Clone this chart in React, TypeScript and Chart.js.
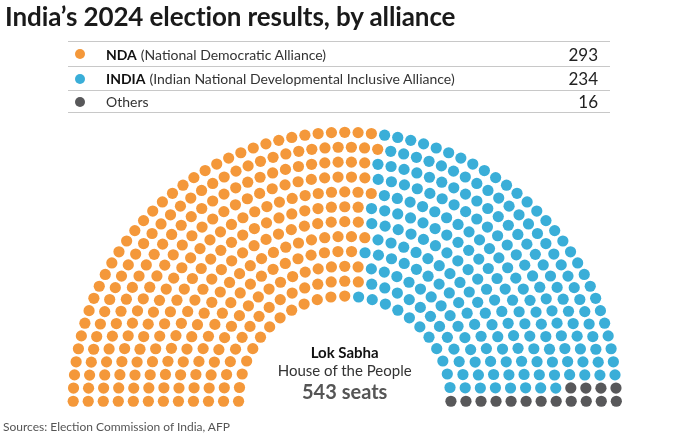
import React, { useEffect, useRef } from "react";
import { Chart, registerables } from "chart.js";
Chart.register(...registerables);

// ---- data ----
const parties = ["NDA", "INDIA", "Others"];
const partyNames = [
  "(National Democratic Alliance)",
  "(Indian National Developmental Inclusive Alliance)",
  "",
];
const seats = [293, 234, 16];
const colors = ["#F4983A", "#3AAED8", "#58585A"];
const titleText = "India\u2019s 2024 election results, by alliance";
const chamber = "Lok Sabha";
const chamberSub = "House of the People";
const totalLabel = "543 seats";
const sourceText = "Sources: Election Commission of India, AFP";

// hemicycle layout parameters
const ROWS = 12;
const INNER = 0.391; // inner ring radius relative to outer ring

type Seat = { a: number; r: number; x: number; y: number };

function layoutSeats(total: number): Seat[] {
  const radii = Array.from({ length: ROWS }, (_, i) => INNER + (i * (1 - INNER)) / (ROWS - 1));
  const sumR = radii.reduce((s, v) => s + v, 0);
  const raw = radii.map((r) => (total * r) / sumR);
  const counts = raw.map((v) => Math.floor(v));
  const rem = total - counts.reduce((s, v) => s + v, 0);
  const order = raw
    .map((v, i) => [v - Math.floor(v), i] as [number, number])
    .sort((p, q) => q[0] - p[0]);
  for (let k = 0; k < rem; k++) counts[order[k][1]]++;
  const pts: Seat[] = [];
  radii.forEach((r, i) => {
    const n = counts[i];
    for (let j = 0; j < n; j++) {
      const a = (Math.PI * (n - 1 - j)) / (n - 1);
      pts.push({ a, r, x: r * Math.cos(a), y: r * Math.sin(a) });
    }
  });
  pts.sort((p, q) => q.a - p.a || p.r - q.r);
  return pts;
}

const W = 696;
const H = 439;
const CX = 344.7;
const CY = 406;
const UNIT = 276;

export default function App() {
  const ref = useRef<HTMLCanvasElement | null>(null);

  useEffect(() => {
    if (!ref.current) return;
    const total = seats.reduce((s, v) => s + v, 0);
    const pts = layoutSeats(total);
    let start = 0;
    const datasets = parties.map((p, i) => {
      const slice = pts.slice(start, start + seats[i]);
      start += seats[i];
      return {
        label: p,
        data: slice.map((s) => ({ x: s.x, y: s.y })),
        backgroundColor: colors[i],
        borderWidth: 0,
        pointRadius: 5.6,
        pointHoverRadius: 5.6,
      };
    });
    const chart = new Chart(ref.current, {
      type: "scatter",
      data: { datasets },
      options: {
        animation: false,
        responsive: false,
        devicePixelRatio: 1,
        layout: { padding: 0 },
        plugins: { legend: { display: false }, tooltip: { enabled: false } },
        scales: {
          x: { type: "linear", display: false, min: -CX / UNIT, max: (W - CX) / UNIT },
          y: { type: "linear", display: false, min: -(H - CY) / UNIT, max: CY / UNIT },
        },
      },
    });
    return () => chart.destroy();
  }, []);

  const rowTops = [41, 66, 90];
  const rowH = [25, 24, 23];

  return (
    <div
      style={{
        position: "fixed",
        left: 0,
        top: 0,
        width: W,
        height: H,
        background: "#fff",
        fontFamily: "Lato, 'Open Sans', sans-serif",
        color: "#222",
        overflow: "hidden",
      }}
    >
      <canvas ref={ref} width={W} height={H} style={{ position: "absolute", left: 0, top: 0, width: W, height: H }} />
      <div
        style={{
          position: "absolute",
          left: 5,
          top: 0,
          fontSize: 26,
          fontWeight: 700,
          color: "#1a1a1a",
          whiteSpace: "nowrap",
          letterSpacing: -0.1,
        }}
      >
        {titleText}
      </div>
      {parties.map((p, i) => (
        <div
          key={p}
          style={{
            position: "absolute",
            left: 68,
            top: rowTops[i],
            width: 542,
            height: rowH[i],
            borderTop: "1px solid #c8c8c8",
            borderBottom: i === parties.length - 1 ? "1px solid #c8c8c8" : "none",
            boxSizing: "border-box",
          }}
        >
          <div
            style={{
              position: "absolute",
              left: 7,
              top: "50%",
              width: 10,
              height: 10,
              marginTop: -5,
              borderRadius: 5,
              background: colors[i],
            }}
          />
          <div
            style={{
              position: "absolute",
              left: 38,
              top: 0,
              bottom: 0,
              display: "flex",
              alignItems: "center",
              fontSize: 14,
              whiteSpace: "nowrap",
              color: "#333",
            }}
          >
            {i < 2 ? <b style={{ color: "#111", marginRight: 4 }}>{p}</b> : <span>{p}</span>}
            <span>{partyNames[i]}</span>
          </div>
          <div
            style={{
              position: "absolute",
              right: 12,
              top: 0,
              bottom: 0,
              display: "flex",
              alignItems: "center",
              fontSize: 17,
              color: "#222",
            }}
          >
            {seats[i]}
          </div>
        </div>
      ))}
      <div
        style={{
          position: "absolute",
          left: CX - 100,
          width: 200,
          top: 343,
          textAlign: "center",
          lineHeight: 1.2,
        }}
      >
        <div style={{ fontSize: 15, fontWeight: 700, color: "#111" }}>{chamber}</div>
        <div style={{ fontSize: 15, color: "#333" }}>{chamberSub}</div>
        <div style={{ fontSize: 20, fontWeight: 700, color: "#555", marginTop: 0 }}>{totalLabel}</div>
      </div>
      <div
        style={{
          position: "absolute",
          left: 3,
          top: 419,
          fontSize: 12,
          color: "#555",
          whiteSpace: "nowrap",
        }}
      >
        {sourceText}
      </div>
    </div>
  );
}
